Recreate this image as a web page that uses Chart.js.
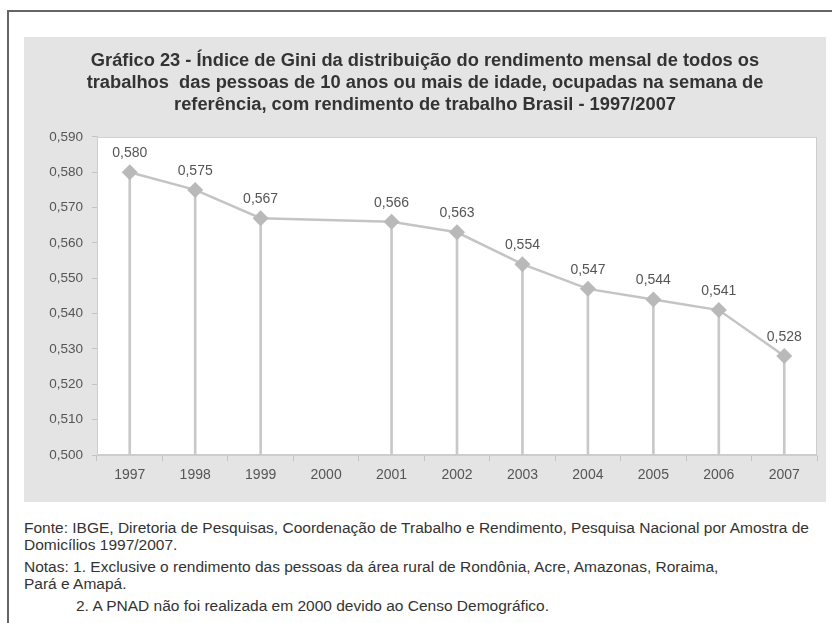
<!DOCTYPE html>
<html>
<head>
<meta charset="utf-8">
<script src="https://cdn.jsdelivr.net/npm/chart.js@4.4.1/dist/chart.umd.min.js"></script>
<style>
  body { margin: 0; background: #fff; overflow: hidden; width: 832px; height: 623px; position: relative; font-family: "Liberation Sans", Arial, sans-serif; }
  #frame { position: absolute; left: 7px; top: 10px; width: 900px; height: 800px; border: 2px solid #666; }
  #panel { position: absolute; left: 24px; top: 37px; width: 802px; height: 465px; background: #e4e4e4; }
  #notes { position: absolute; left: 24px; top: 519px; font-size: 15.5px; color: #333; }
  #notes div { line-height: 17px; white-space: nowrap; }
  #notes .gap { margin-top: 5px; }
  #notes .ind { padding-left: 52px; }
</style>
</head>
<body>
<div id="frame"></div>
<div id="panel"><canvas id="chart" width="802" height="465"></canvas></div>
<div id="notes">
  <div>Fonte: IBGE, Diretoria de Pesquisas, Coordenação de Trabalho e Rendimento, Pesquisa Nacional por Amostra de</div>
  <div>Domicílios 1997/2007.</div>
  <div class="gap">Notas: 1. Exclusive o rendimento das pessoas da área rural de Rondônia, Acre, Amazonas, Roraima,</div>
  <div>Pará e Amapá.</div>
  <div class="gap ind">2. A PNAD não foi realizada em 2000 devido ao Censo Demográfico.</div>
</div>
<script>
const years = ['1997', '1998', '1999', '2000', '2001', '2002', '2003', '2004', '2005', '2006', '2007'];
const gini = [0.580, 0.575, 0.567, null, 0.566, 0.563, 0.554, 0.547, 0.544, 0.541, 0.528];
const yMin = 0.500;
const yMax = 0.590;
const yStep = 0.010;
const titleLines = [
  'Gráfico 23 - Índice de Gini da distribuição do rendimento mensal de todos os',
  'trabalhos  das pessoas de 10 anos ou mais de idade, ocupadas na semana de',
  'referência, com rendimento de trabalho Brasil - 1997/2007'
];

const fontFamily = '"Liberation Sans", Arial, sans-serif';
const fmt = v => v.toFixed(3).replace('.', ',');

// white plot area with a thin border
const plotBox = {
  id: 'plotBox',
  beforeDraw(chart) {
    const { ctx, chartArea: a } = chart;
    ctx.save();
    ctx.fillStyle = '#fff';
    ctx.fillRect(a.left, a.top, a.right - a.left, a.bottom - a.top);
    ctx.strokeStyle = '#cdcdcd';
    ctx.lineWidth = 1;
    ctx.strokeRect(a.left + 0.5, a.top + 0.5, a.right - a.left - 1, a.bottom - a.top - 1);
    ctx.restore();
  }
};

// value labels above the diamonds
const valueLabels = {
  id: 'valueLabels',
  afterDatasetsDraw(chart) {
    const ctx = chart.ctx;
    const meta = chart.getDatasetMeta(0);
    ctx.save();
    ctx.font = '14px ' + fontFamily;
    ctx.fillStyle = '#555';
    ctx.textAlign = 'center';
    ctx.textBaseline = 'middle';
    meta.data.forEach((pt, i) => {
      if (gini[i] === null) return;
      ctx.fillText(fmt(gini[i]), pt.x, pt.y - 19);
    });
    ctx.restore();
  }
};

new Chart(document.getElementById('chart'), {
  type: 'bar',
  data: {
    labels: years,
    datasets: [
      {
        type: 'line',
        data: gini,
        order: 0,
        borderColor: '#c4c4c4',
        borderWidth: 2.5,
        spanGaps: true,
        tension: 0,
        pointStyle: 'rectRot',
        pointRadius: 8,
        pointBackgroundColor: '#b9b9b9',
        pointBorderWidth: 0
      },
      {
        // drop lines from each point to the axis
        type: 'bar',
        data: gini,
        order: 1,
        base: yMin,
        backgroundColor: '#c8c8c8',
        barThickness: 2
      }
    ]
  },
  options: {
    responsive: false,
    animation: false,
    layout: { padding: { left: 9, right: 9, top: 0, bottom: 0 } },
    plugins: {
      legend: { display: false },
      tooltip: { enabled: false },
      title: {
        display: true,
        text: titleLines,
        color: '#333',
        font: { family: fontFamily, size: 18.3, weight: 'bold', lineHeight: 1.2 },
        padding: { top: 13, bottom: 21 }
      }
    },
    scales: {
      x: {
        offset: true,
        grid: { offset: true, drawOnChartArea: false, drawTicks: true, tickLength: 6, color: '#c4c4c4' },
        border: { display: true, color: '#cdcdcd' },
        ticks: { color: '#555', font: { family: fontFamily, size: 14 }, padding: 6 },
        afterFit: s => { s.height = 47; }
      },
      y: {
        min: yMin,
        max: yMax,
        grid: { drawOnChartArea: false, drawTicks: true, tickLength: 5, color: '#c4c4c4' },
        border: { display: true, color: '#cdcdcd' },
        ticks: {
          stepSize: yStep,
          color: '#555',
          font: { family: fontFamily, size: 13.5 },
          padding: 9,
          callback: v => fmt(v)
        },
        afterFit: s => { s.width = 64; }
      }
    }
  },
  plugins: [plotBox, valueLabels]
});
</script>
</body>
</html>
